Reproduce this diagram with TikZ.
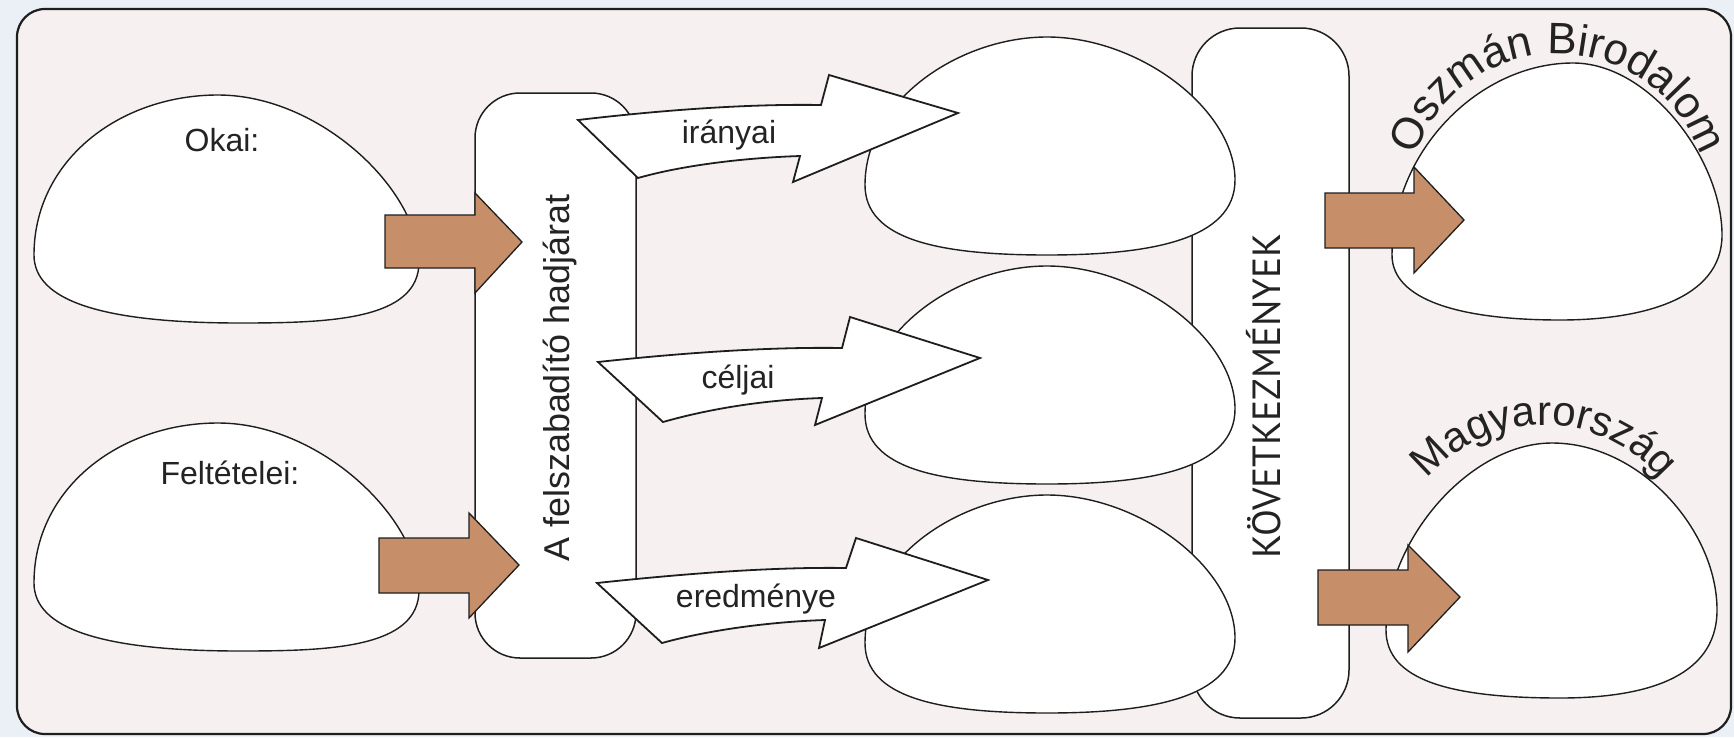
\documentclass[tikz,border=0pt]{standalone}
\usepackage{graphicx}
\usepackage{fontspec}
\setmainfont{Liberation Sans}
\newfontfamily\ptsans{PT Sans}
\usetikzlibrary{decorations.text}
\definecolor{bgpink}{RGB}{247,240,240}
\definecolor{bgblue}{RGB}{234,240,246}
\definecolor{brownfill}{RGB}{198,143,106}
\definecolor{lineclr}{RGB}{30,30,30}
\definecolor{txtclr}{RGB}{35,35,35}
\begin{document}
\begin{tikzpicture}[x=1pt,y=-1pt,
  blob/.style={draw=lineclr, line width=1.4pt, fill=white},
  roundbox/.style={draw=lineclr, line width=1.5pt, fill=white},
  whitearrow/.style={draw=lineclr, line width=1.8pt, fill=white, line join=miter},
  brownarr/.style={draw=lineclr, line width=1.3pt, fill=brownfill, line join=miter},
  lbl/.style={font=\fontsize{32}{36}\selectfont, text=txtclr, inner sep=0pt}]

\path[use as bounding box] (0,0) rectangle (1734,737);
\fill[bgblue] (0,0) rectangle (1734,737);
\draw[fill=bgpink, draw=lineclr, line width=2.2pt, rounded corners=28pt] (17,9) rectangle (1731,734);

% campaign box
\draw[roundbox, rounded corners=45pt] (475,93) rectangle (636,658);

% left blobs
\def\leftblob{(218,95) .. controls (320,95) and (419,190) .. (419,262)
  .. controls (419,320) and (330,323) .. (240,323)
  .. controls (100,323) and (34,300) .. (34,255)
  .. controls (34,160) and (120,95) .. (218,95) -- cycle}
\draw[blob] \leftblob;
\draw[blob, shift={(0,328)}] \leftblob;

% consequences box
\draw[roundbox, rounded corners=48pt] (1192,28) rectangle (1349,718);

% middle blobs
\def\midblob{(865,185) .. controls (865,100) and (960,37) .. (1047,37)
  .. controls (1140,37) and (1235,110) .. (1235,180)
  .. controls (1235,240) and (1150,255) .. (1047,255)
  .. controls (940,255) and (865,240) .. (865,185) -- cycle}
\draw[blob] \midblob;
\draw[blob, shift={(0,229)}] \midblob;
\draw[blob, shift={(0,458)}] \midblob;

% white arrows
\draw[whitearrow] (578,120) .. controls (680,108) and (760,104) .. (821,105) -- (829,75) -- (958,113) -- (793,182) -- (800,156) .. controls (740,158) and (680,166) .. (638,178) -- cycle;
\draw[whitearrow] (598,362) .. controls (700,351) and (780,347) .. (842,348) -- (850,317) -- (980,358) -- (815,425) -- (822,398) .. controls (760,400) and (705,410) .. (663,422) -- cycle;
\draw[whitearrow] (597,583) .. controls (700,572) and (780,567) .. (846,568) -- (856,538) -- (988,580) -- (819,648) -- (825,620) .. controls (765,622) and (705,631) .. (662,643) -- cycle;

% right blobs
\draw[blob] (1573,63) .. controls (1650,63) and (1722,160) .. (1722,235)
  .. controls (1722,300) and (1640,320) .. (1560,320)
  .. controls (1460,320) and (1392,300) .. (1392,255)
  .. controls (1392,150) and (1480,63) .. (1573,63) -- cycle;
\draw[blob] (1552,443) .. controls (1640,443) and (1717,530) .. (1717,610)
  .. controls (1717,680) and (1640,698) .. (1560,698)
  .. controls (1450,698) and (1386,680) .. (1386,630)
  .. controls (1386,540) and (1470,443) .. (1552,443) -- cycle;

% brown arrows
\draw[brownarr] (385,215) -- (475,215) -- (475,193) -- (522,242) -- (475,293) -- (475,268) -- (385,268) -- cycle;
\draw[brownarr] (379,538) -- (469,538) -- (469,513) -- (519,565) -- (469,618) -- (469,593) -- (379,593) -- cycle;
\draw[brownarr] (1325,193) -- (1414,193) -- (1414,167) -- (1464,220) -- (1414,273) -- (1414,248) -- (1325,248) -- cycle;
\draw[brownarr] (1318,570) -- (1408,570) -- (1408,545) -- (1460,597) -- (1408,652) -- (1408,625) -- (1318,625) -- cycle;

% labels
\node[lbl] (okai) at (222,140) {Okai:};
\node[lbl] (feltetelei) at (230,473) {Feltételei:};
\node[lbl] (iranyai) at (729,135) {irányai};
\node[lbl] (celjai) at (738,380) {céljai};
\node[lbl] (eredmenye) at (756,599) {eredménye};
\node[rotate=90, inner sep=0pt, text=txtclr] (hadjarat) at (560,378) {\resizebox{367pt}{!}{A felszabadító hadjárat}};
\node[rotate=90, inner sep=0pt, text=txtclr] (kovetk) at (1264,396) {\resizebox{325pt}{!}{\ptsans KÖVETKEZMÉNYEK}};

% curved titles
\path[decorate, decoration={text along path, text align=center, text color=txtclr,
  text={|\fontsize{44}{44}\selectfont|Oszmán Birodalom}}]
  (1558,205) ++(-180:151) arc[start angle=-180, end angle=0, radius=151];
\path[decorate, decoration={text along path, text align=center, text color=txtclr,
  text={|\fontsize{42}{42}\selectfont|Magyarország}}]
  (1544,577) ++(-180:152) arc[start angle=-180, end angle=0, radius=152];
\end{tikzpicture}
\end{document}
